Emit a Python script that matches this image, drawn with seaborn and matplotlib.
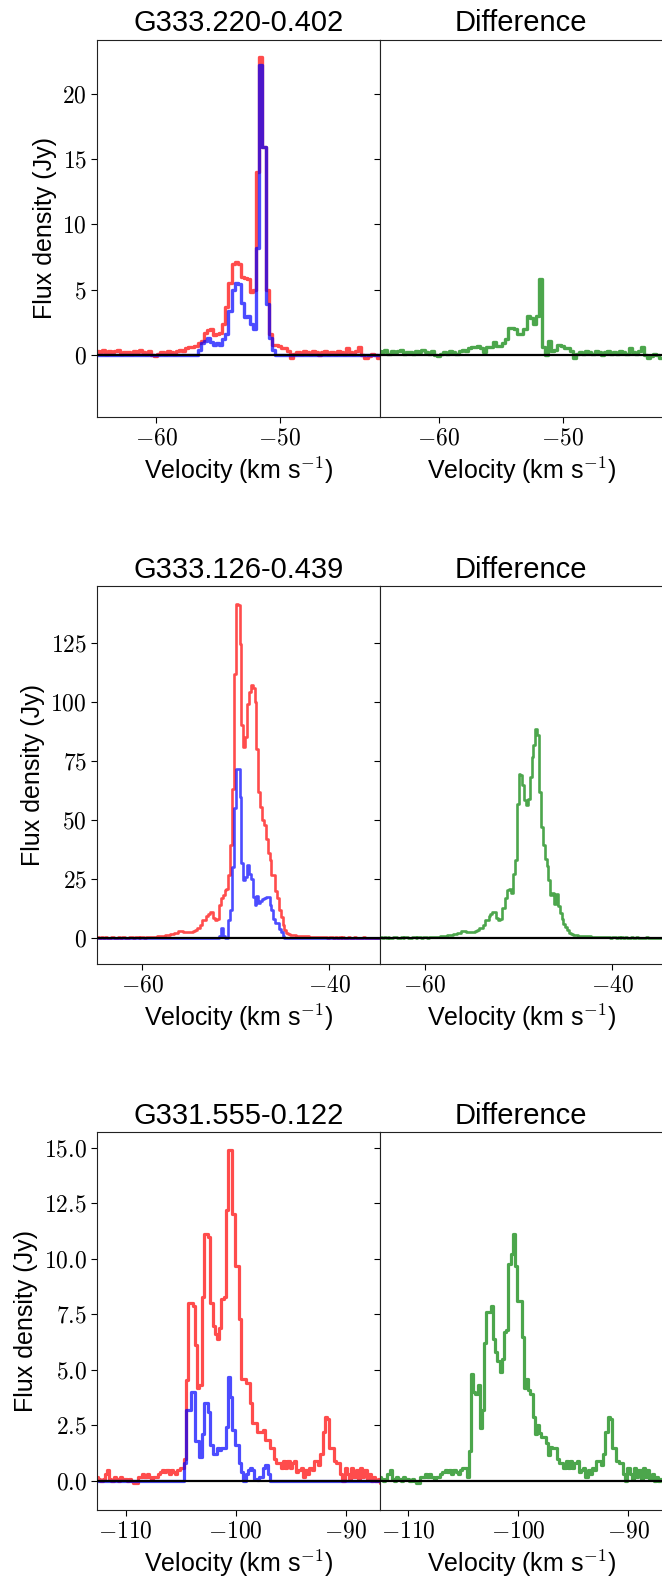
import numpy as np
import matplotlib
matplotlib.use("Agg")
import matplotlib.pyplot as plt
from matplotlib.ticker import MultipleLocator, FuncFormatter
import seaborn as sns

sns.set_style("ticks")
plt.rcParams['font.family'] = ['Liberation Sans', 'DejaVu Sans']
plt.rcParams['mathtext.fontset'] = 'cm'
plt.rcParams['text.color'] = 'black'
plt.rcParams['axes.labelcolor'] = 'black'
plt.rcParams['xtick.color'] = 'black'
plt.rcParams['ytick.color'] = 'black'

# ---- G333.220-0.402 (0.25 km/s channels) ----
v0_a, dv_a = -64.79, 0.25
red_a = [0.3, 0.2, 0.4, 0.1, 0.3, 0.2, 0.3, 0.4, 0.1, 0.2, 0.2, 0.1, 0.3, 0.2, 0.4,
         0.2, 0.1, 0.3, 0.0, -0.1, 0.1, 0.2, 0.1, 0.3, 0.2, 0.1, 0.3, 0.4, 0.3,
         0.5, 0.6, 0.6,
         0.7, 0.9, 1.1, 1.7, 1.9, 2.0, 1.5, 1.6, 1.7, 2.4, 3.7, 5.5, 7.0, 7.1, 7.0,
         6.0, 5.9, 5.8, 4.8, 5.0, 14.0, 22.8, 15.9, 5.0, 1.6, 0.8, 0.75, 0.7, 0.5,
         0.55, 0.3, -0.2, 0.1,
         0.2, 0.1, 0.3, 0.2, 0.1, 0.3, 0.2, 0.0, 0.2, 0.3, 0.1, 0.2, 0.1, 0.3,
         0.2, 0.1, 0.5, 0.2, 0.1, 0.3, 0.6, 0.0, -0.2, -0.1, 0.1, 0.0, -0.2, 0.0]
blue_a_start = 33
blue_a_line = [0.4, 0.9, 1.1, 1.3, 1.0, 0.8, 0.9, 0.8, 1.2, 1.6, 3.4, 5.0, 5.5,
               5.4, 4.0, 2.9, 3.0, 2.4, 2.0, 8.2, 22.2, 15.9, 3.9, 1.3, 0.4]

# ---- G333.126-0.439 (0.2 km/s channels) ----
v0_b, dv_b = -64.9, 0.2
red_b = [0.3, 0.5, 0.2, 0.4, 0.3, 0.6, 0.2, 0.3, 0.4, 0.5, 0.3, 0.2, 0.4, 0.3, 0.5,
         0.4, 0.2, 0.3, 0.5, 0.4, 0.3, 0.4, 0.6, 0.3, 0.4, 0.5, 0.3, 0.4, 0.5, 0.4,
         0.5, 0.6, 0.7, 0.8, 0.9, 1.0, 1.1, 1.3, 1.4, 1.5, 1.7, 2.0, 2.1, 2.3, 2.9,
         3.2, 2.9, 2.6, 2.5, 2.5, 2.6, 2.8, 3.0, 3.4, 4.2, 4.3, 5.5, 7.7, 7.9, 9.5,
         10.5, 11.3, 11.2, 8.5, 7.7, 8.0,
         14.0, 17.0, 18.3, 20.4, 21.0, 26.7, 39.4, 63.3, 111.9, 141.5,
         141.0, 124.6, 90.1, 80.9, 85.1, 99.2, 104.0, 107.0, 106.0, 100.0,
         80.0, 62.0, 55.6, 50.0, 47.8, 42.2, 36.0, 33.1, 26.7, 26.7,
         20.0, 16.9, 12.0, 9.0, 5.6, 3.5, 2.1, 1.8, 1.6, 1.4, 1.3, 1.2, 1.1, 1.0,
         0.9, 0.9, 0.8, 0.8, 0.7, 0.7, 0.6, 0.6, 0.5, 0.6, 0.5, 0.4, 0.5, 0.4, 0.3,
         0.5, 0.4, 0.3, 0.4, 0.2, 0.4, 0.3, 0.5, 0.3, 0.2, 0.4, 0.3, 0.2, 0.4, 0.3,
         0.1, 0.3, 0.2, 0.4, 0.2, 0.3, 0.1, 0.3, 0.2, 0.3, 0.2, 0.1, 0.3]
blue_b_start = 66
blue_b_line = [1.0, 4.2, 1.2, 0.0, 0.0, 7.7, 12.0, 30.0, 55.0, 71.8, 71.8, 59.8,
               31.7, 24.6, 26.0, 31.0, 27.4, 25.3, 17.6, 14.0, 18.0, 14.8, 16.0,
               16.5, 17.0, 17.6, 17.6, 14.0, 12.0, 8.0, 6.3, 6.3, 4.0, 2.8, 0.8, 0.0]

# ---- G331.555-0.122 (0.2 km/s channels) ----
v0_c, dv_c = -112.6, 0.2
red_c = [0.2, 0.1, 0.0, 0.1, 0.3, 0.5, 0.1, 0.0, 0.2, 0.1, 0.0, 0.2, 0.1, 0.1, 0.0,
         0.1, 0.0, -0.1, -0.1, 0.2, 0.2, 0.3, 0.2, 0.3, 0.2, 0.1, 0.2, 0.2, 0.3, 0.4,
         0.5, 0.4, 0.5, 0.3, 0.5,
         0.4, 0.3, 0.5, 0.6, 0.6,
         1.0, 4.55, 8.0, 8.0, 7.9, 6.1, 4.2, 4.3, 8.3, 11.1, 11.1, 11.0, 8.0, 7.0,
         6.6, 6.4, 6.9, 8.2, 8.3, 12.2, 14.9, 14.9, 12.0, 9.7, 9.7, 7.3, 4.6, 4.6,
         4.4, 4.4, 3.5, 2.6, 2.6, 2.2, 2.2, 2.2, 2.3, 1.85, 1.85, 1.5, 1.5, 1.0,
         0.8, 0.8, 0.6, 0.9, 0.6, 0.9, 0.6, 0.8, 0.9, 0.4, 0.5, 0.6, 0.2, 0.5, 0.3,
         0.6, 0.5, 0.9, 0.9, 0.7, 1.2, 2.2, 2.9, 2.8, 1.5, 1.5, 0.9, 0.8, 0.8, 0.3,
         0.0, 0.6, 0.3, 0.1, 0.6, 0.2, 0.5, 0.1, 0.6, 0.2, 0.5, 0.1, 0.3, 0.0, 0.2,
         0.0, 0.1, -0.1]
blue_c_start = 40
blue_c_line = [0.8, 3.2, 3.2, 4.0, 4.0, 1.8, 1.8, 1.1, 2.1, 3.5, 3.5, 3.1, 1.6,
               1.2, 1.2, 1.5, 1.4, 1.5, 1.5, 2.45, 4.7, 3.8, 2.3, 1.6, 1.6, 0.8,
               0.4, 0.0, 0.3, 0.5, 0.6, 0.5, 0.1, 0.05, 0.2, 0.2, 0.6, 0.7, 0.3]

titles = ["G333.220-0.402", "G333.126-0.439", "G331.555-0.122"]
xlims = [(-64.77, -41.9), (-64.81, -34.58), (-112.58, -86.88)]
ylims = [(-4.77, 24.13), (-10.85, 148.9), (-1.31, 15.70)]
xstep = [10, 20, 10]
ystep = [5, 25, 2.5]
yfmt = ["{:g}", "{:g}", "{:.1f}"]
lws = [2.4, 1.9, 2.3]


def full_blue(red, start, line):
    return np.array([0.0] * start + line + [0.0] * (len(red) - start - len(line)))


sources = [
    (v0_a, dv_a, np.array(red_a), full_blue(red_a, blue_a_start, blue_a_line)),
    (v0_b, dv_b, np.array(red_b), full_blue(red_b, blue_b_start, blue_b_line)),
    (v0_c, dv_c, np.array(red_c), full_blue(red_c, blue_c_start, blue_c_line)),
]

fig = plt.figure(figsize=(6.62, 15.85), dpi=100)
row_bottoms = [0.7367, 0.3918, 0.0473]
h = 0.2383
w = 0.4271


def step(ax, v, y, color, lw):
    sns.lineplot(x=v, y=y, ax=ax, color=color, alpha=0.7, lw=lw,
                 drawstyle="steps-mid", estimator=None, sort=False)


for k, (v0, dv, red, blue) in enumerate(sources):
    vel = v0 + dv * np.arange(len(red))
    diff = red - blue
    axl = fig.add_axes([0.147, row_bottoms[k], w, h])
    axr = fig.add_axes([0.574, row_bottoms[k], w, h])

    step(axl, vel, red, "red", lws[k])
    step(axl, vel, blue, "blue", lws[k])
    step(axr, vel, diff, "green", lws[k])

    fmt = FuncFormatter(lambda x, p, f=yfmt[k]: "$" + f.format(x) + "$")
    xf = FuncFormatter(lambda x, p: "$%g$" % x)
    for ax in (axl, axr):
        ax.axhline(0, color="black", lw=1.6, zorder=5)
        ax.set_xlim(*xlims[k])
        ax.set_ylim(*ylims[k])
        ax.xaxis.set_major_locator(MultipleLocator(xstep[k]))
        ax.yaxis.set_major_locator(MultipleLocator(ystep[k]))
        ax.xaxis.set_major_formatter(xf)
        ax.yaxis.set_major_formatter(fmt)
        ax.tick_params(labelsize=17, length=4)
        ax.set_xlabel("Velocity (km s$^{-1}$)", fontsize=18)
        for s in ax.spines.values():
            s.set_color("#222222")
    axl.set_ylabel("Flux density (Jy)", fontsize=18)
    axr.set_ylabel("")
    axr.tick_params(labelleft=False)
    axl.set_title(titles[k], fontsize=21, pad=6)
    axr.set_title("Difference", fontsize=21, pad=6)

fig.savefig("out.png", dpi=100)
